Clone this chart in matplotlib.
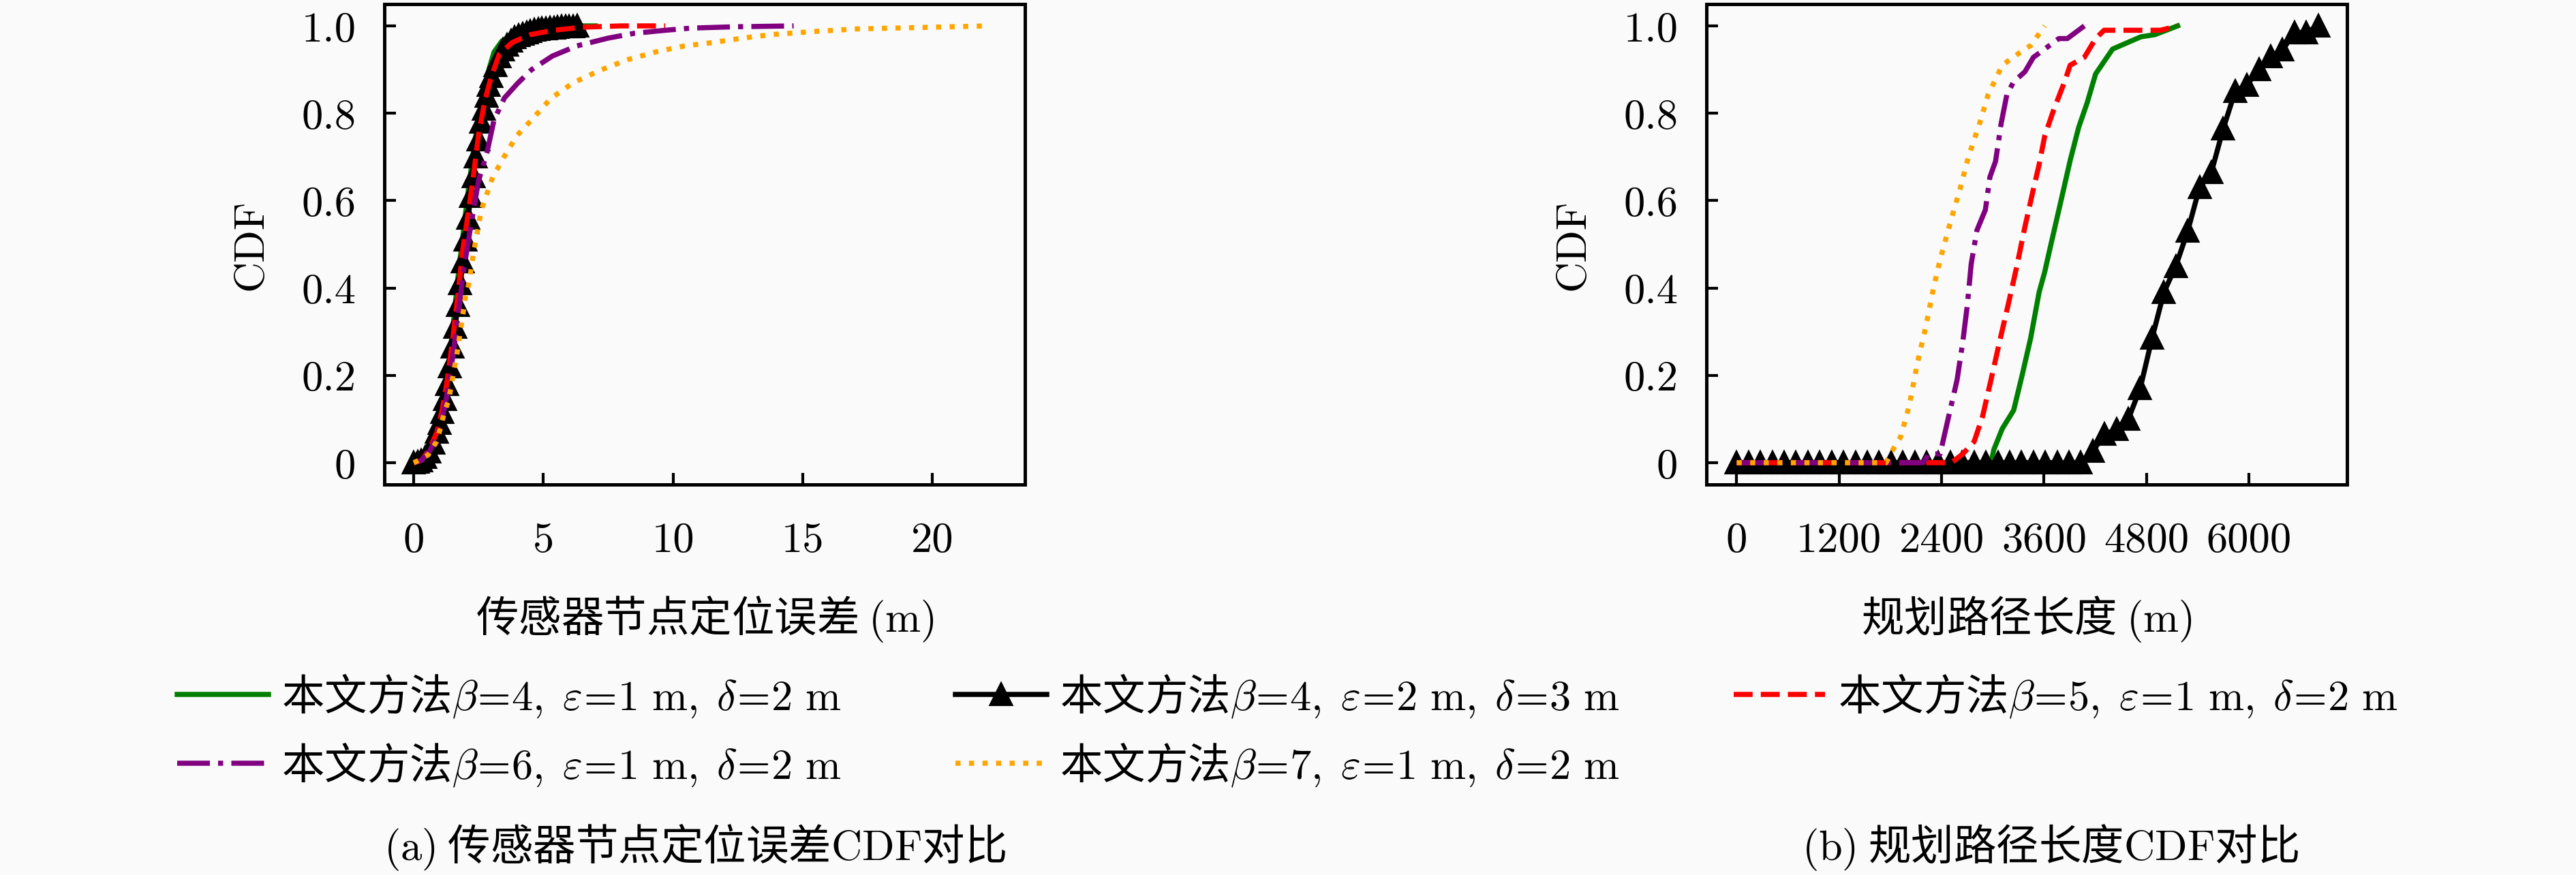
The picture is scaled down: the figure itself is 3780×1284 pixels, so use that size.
import matplotlib
matplotlib.use("Agg")
import matplotlib.pyplot as plt

plt.rcParams['font.family'] = ['Noto Sans CJK SC', 'DejaVu Sans']
plt.rcParams['mathtext.fontset'] = 'cm'
plt.rcParams['font.size'] = 15

# (a) localization error CDF
err_green_x = [0, 0.3, 0.6, 0.9, 1.1, 1.3, 1.5, 1.7, 1.9, 2.1, 2.3, 2.5, 2.7, 2.9, 3.1, 3.4, 3.8, 4.2, 4.6, 5.0, 6.0, 7.0]
err_green_y = [0, 0.005, 0.03, 0.07, 0.12, 0.2, 0.3, 0.42, 0.52, 0.62, 0.71, 0.79, 0.85, 0.9, 0.94, 0.965, 0.98, 0.99, 0.995, 1.0, 1.0, 1.0]

err_black_x = [0, 0.15, 0.3, 0.45, 0.6, 0.75, 0.9, 1.0, 1.1, 1.2, 1.3, 1.4, 1.5, 1.6, 1.7, 1.8, 1.9, 2.0,
               2.1, 2.2, 2.3, 2.4, 2.5, 2.6, 2.7, 2.8, 2.9, 3.0, 3.15, 3.3, 3.45, 3.6, 3.75, 3.9, 4.05,
               4.2, 4.35, 4.5, 4.65, 4.8, 4.95, 5.1, 5.25, 5.4, 5.55, 5.7, 5.85, 6.0, 6.15, 6.3]
err_black_y = [0, 0.002, 0.005, 0.012, 0.025, 0.045, 0.07, 0.09, 0.115, 0.145, 0.18, 0.22, 0.265, 0.31,
               0.36, 0.41, 0.46, 0.51, 0.56, 0.61, 0.655, 0.7, 0.74, 0.78, 0.81, 0.84, 0.865, 0.885,
               0.91, 0.93, 0.945, 0.957, 0.966, 0.973, 0.978, 0.982, 0.985, 0.988, 0.99, 0.992, 0.993,
               0.994, 0.995, 0.996, 0.997, 0.998, 0.998, 0.999, 0.999, 1.0]

err_red_x = [0, 0.3, 0.6, 0.9, 1.1, 1.3, 1.5, 1.7, 1.9, 2.1, 2.3, 2.5, 2.75, 3.0, 3.3, 3.8, 4.5, 5.4, 6.5, 8.0, 9.7]
err_red_y = [0, 0.005, 0.03, 0.07, 0.12, 0.19, 0.28, 0.38, 0.49, 0.57, 0.655, 0.75, 0.83, 0.885, 0.935, 0.962, 0.98, 0.99, 0.997, 1.0, 1.0]

err_purple_x = [0, 0.3, 0.6, 0.9, 1.1, 1.3, 1.5, 1.7, 1.9, 2.17, 2.5, 2.83, 3.1, 3.5, 4.0, 4.55, 5.35, 6.28,
                7.5, 8.5, 9.7, 10.7, 12.4, 14.65]
err_purple_y = [0, 0.005, 0.025, 0.06, 0.1, 0.16, 0.24, 0.33, 0.43, 0.53, 0.645, 0.711, 0.785, 0.835, 0.868,
                0.9, 0.931, 0.954, 0.972, 0.983, 0.99, 0.995, 0.998, 1.0]

err_orange_x = [0, 0.12, 0.56, 0.87, 1.04, 1.17, 1.35, 1.55, 1.66, 1.83, 2.0, 2.14, 2.31, 2.61, 3.05, 3.59,
                4.0, 4.55, 5.29, 6.16, 7.21, 8.27, 9.38, 10.43, 11.55, 12.67, 13.78, 15.39, 17.07, 19.3, 22.1]
err_orange_y = [0, 0.003, 0.018, 0.047, 0.08, 0.113, 0.143, 0.21, 0.245, 0.312, 0.38, 0.413, 0.481, 0.579,
                0.654, 0.711, 0.75, 0.785, 0.834, 0.87, 0.899, 0.923, 0.941, 0.954, 0.962, 0.972, 0.98,
                0.987, 0.993, 0.996, 1.0]

# (b) planned path length CDF
len_green_x = [0, 2980, 3012, 3111, 3244, 3343, 3443, 3542, 3608, 3674, 3741, 3807, 3906, 4006, 4105, 4204, 4403, 4734, 4899, 5164]
len_green_y = [0, 0, 0.03, 0.078, 0.12, 0.2, 0.285, 0.39, 0.437, 0.494, 0.551, 0.607, 0.692, 0.768, 0.824, 0.89, 0.947, 0.975, 0.98, 1.0]

len_black_x = [0, 139, 278, 417, 556, 695, 834, 973, 1112, 1251, 1390, 1529, 1668, 1807, 1946, 2085, 2224,
               2363, 2502, 2641, 2780, 2919, 3058, 3197, 3336, 3475, 3614, 3753, 3892, 4031, 4170, 4309,
               4448, 4587, 4726, 4865, 5004, 5143, 5282, 5421, 5560, 5699, 5838, 5977, 6116, 6255, 6394,
               6533, 6672, 6811]
len_black_y = [0] * 30 + [0.026, 0.065, 0.076, 0.10, 0.17, 0.285, 0.39, 0.45, 0.53, 0.63, 0.665, 0.765,
                          0.85, 0.865, 0.90, 0.93, 0.945, 0.985, 0.985, 1.0]

len_red_x = [0, 2516, 2648, 2781, 2880, 2979, 3078, 3178, 3277, 3376, 3475, 3542, 3608, 3708, 3840, 3906, 4072, 4204, 4303, 4568, 4965, 5164]
len_red_y = [0, 0, 0.02, 0.048, 0.106, 0.19, 0.276, 0.36, 0.446, 0.54, 0.626, 0.682, 0.748, 0.805, 0.872, 0.91, 0.928, 0.971, 0.99, 0.99, 0.99, 1.0]

len_purple_x = [0, 2185, 2250, 2383, 2483, 2582, 2648, 2701, 2747, 2814, 2913, 2966, 3032, 3098, 3165, 3244, 3376, 3475, 3608, 3773, 3873, 4072]
len_purple_y = [0, 0, 0.02, 0.02, 0.106, 0.19, 0.276, 0.36, 0.455, 0.532, 0.579, 0.654, 0.69, 0.777, 0.843, 0.872, 0.895, 0.928, 0.947, 0.971, 0.971, 1.0]

len_orange_x = [0, 1750, 1800, 1920, 2019, 2118, 2218, 2304, 2383, 2516, 2615, 2714, 2846, 2946, 3111, 3310, 3443, 3608]
len_orange_y = [0, 0, 0.02, 0.059, 0.129, 0.229, 0.314, 0.399, 0.465, 0.56, 0.626, 0.70, 0.777, 0.843, 0.91, 0.938, 0.955, 1.0]

labels = [r'本文方法$\beta\!=\!4,\;\varepsilon\!=\!1\ \mathrm{m},\;\delta\!=\!2\ \mathrm{m}$',
          r'本文方法$\beta\!=\!4,\;\varepsilon\!=\!2\ \mathrm{m},\;\delta\!=\!3\ \mathrm{m}$',
          r'本文方法$\beta\!=\!5,\;\varepsilon\!=\!1\ \mathrm{m},\;\delta\!=\!2\ \mathrm{m}$',
          r'本文方法$\beta\!=\!6,\;\varepsilon\!=\!1\ \mathrm{m},\;\delta\!=\!2\ \mathrm{m}$',
          r'本文方法$\beta\!=\!7,\;\varepsilon\!=\!1\ \mathrm{m},\;\delta\!=\!2\ \mathrm{m}$']

yticks = [0, 0.2, 0.4, 0.6, 0.8, 1.0]
ytick_labels = ['0', '0.2', '0.4', '0.6', '0.8', '1.0']

bg = '#fafafa'
lw = 1.8

fig = plt.figure(figsize=(12.6, 4.2833), dpi=300, facecolor=bg)
ax1 = fig.add_axes([0.1492, 0.4459, 0.2487, 0.5487], facecolor=bg)
ax2 = fig.add_axes([0.6624, 0.4459, 0.2487, 0.5487], facecolor=bg)


def draw(ax, data):
    h = []
    h += ax.plot(data[0][0], data[0][1], color='green', lw=lw, label=labels[0])
    h += ax.plot(data[1][0], data[1][1], color='black', lw=lw, marker='^', ms=7, label=labels[1])
    h += ax.plot(data[2][0], data[2][1], color='red', lw=lw, ls='--', label=labels[2])
    h += ax.plot(data[3][0], data[3][1], color='purple', lw=lw, ls='-.', label=labels[3])
    h += ax.plot(data[4][0], data[4][1], color='orange', lw=lw, ls=':', label=labels[4])
    ax.set_ylim(-0.05, 1.05)
    ax.set_yticks(yticks, ytick_labels, fontfamily='cmr10')
    ax.tick_params(direction='in', length=4, width=1, top=False, right=False)
    ax.tick_params(axis='x', pad=13)
    ax.tick_params(axis='y', pad=10)
    for s in ax.spines.values():
        s.set_linewidth(1.2)
    ax.set_ylabel('CDF', fontfamily='cmr10', labelpad=11)
    return h


handles = draw(ax1, [(err_green_x, err_green_y), (err_black_x, err_black_y), (err_red_x, err_red_y),
                     (err_purple_x, err_purple_y), (err_orange_x, err_orange_y)])
ax1.set_xlim(-1.13, 23.57)
ax1.set_xticks([0, 5, 10, 15, 20], ['0', '5', '10', '15', '20'], fontfamily='cmr10')
ax1.set_xlabel(r'传感器节点定位误差 $\mathrm{(m)}$', labelpad=12)

draw(ax2, [(len_green_x, len_green_y), (len_black_x, len_black_y), (len_red_x, len_red_y),
           (len_purple_x, len_purple_y), (len_orange_x, len_orange_y)])
ax2.set_xlim(-355, 7148)
ax2.set_xticks([0, 1200, 2400, 3600, 4800, 6000], ['0', '1200', '2400', '3600', '4800', '6000'], fontfamily='cmr10')
ax2.set_xlabel(r'规划路径长度 $\mathrm{(m)}$', labelpad=12)

# legend is filled column-wise, so reorder to get green/black/red on the first row
order = [0, 3, 1, 4, 2]
fig.legend([handles[i] for i in order], [labels[i] for i in order], ncol=3, frameon=False,
           loc='center', bbox_to_anchor=(0.0688, 0.086, 0.862, 0.16), mode='expand',
           borderaxespad=0, borderpad=0, handlelength=2.15, handletextpad=0.3, labelspacing=0.5)

fig.text(0.2698, 0.0319, r'$\mathrm{(a)}$ 传感器节点定位误差$\mathrm{CDF}$对比', ha='center', va='center')
fig.text(0.7958, 0.0319, r'$\mathrm{(b)}$ 规划路径长度$\mathrm{CDF}$对比', ha='center', va='center')

fig.savefig('out.png', dpi=300, facecolor=bg)
